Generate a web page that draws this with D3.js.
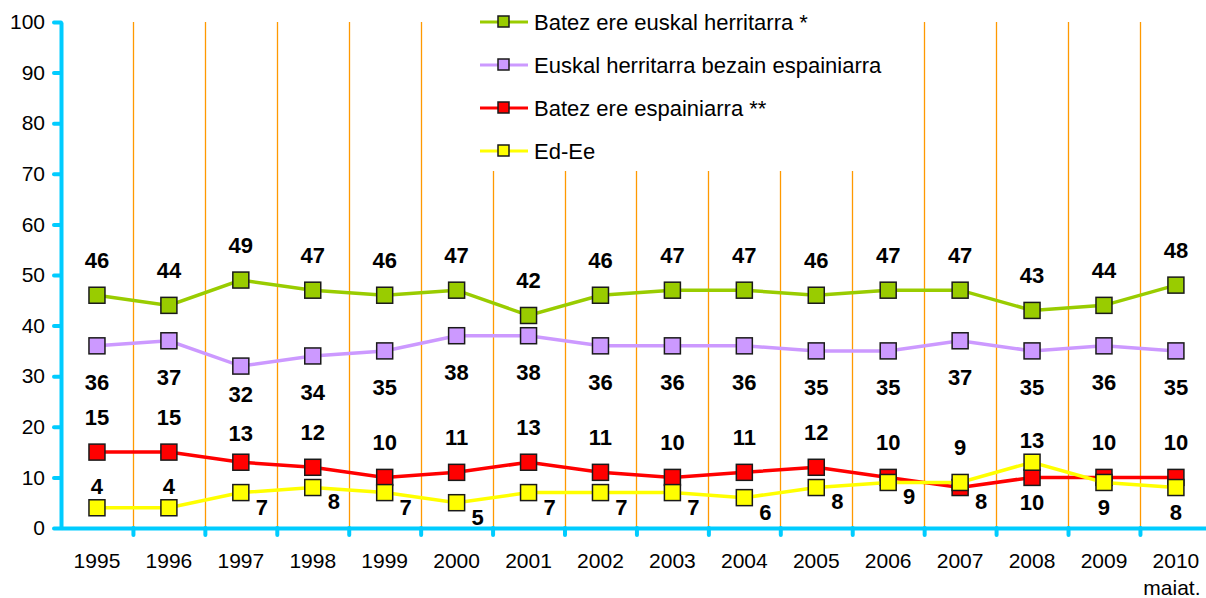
<!DOCTYPE html>
<html>
<head>
<meta charset="utf-8">
<script src="https://cdn.jsdelivr.net/npm/d3@7"></script>
<style>
  body { margin: 0; background: #fff; }
  text { font-family: "Liberation Sans", Arial, sans-serif; fill: #000; }
</style>
</head>
<body>
<div id="chart"></div>
<script>
var svgWidth = 1206;
var svgHeight = 598;

// data
var years = ["1995", "1996", "1997", "1998", "1999", "2000", "2001", "2002",
  "2003", "2004", "2005", "2006", "2007", "2008", "2009", "2010"];
var lastYearNote = "maiat.";
var yTicks = [0, 10, 20, 30, 40, 50, 60, 70, 80, 90, 100];

var seriesNames = ["Batez ere euskal herritarra *", "Euskal herritarra bezain espainiarra",
  "Batez ere espainiarra **", "Ed-Ee"];
var seriesColors = ["#99CC00", "#CC99FF", "#FF0000", "#FFFF00"];

var basque = [46, 44, 49, 47, 46, 47, 42, 46, 47, 47, 46, 47, 47, 43, 44, 48];
var both = [36, 37, 32, 34, 35, 38, 38, 36, 36, 36, 35, 35, 37, 35, 36, 35];
var spanish = [15, 15, 13, 12, 10, 11, 13, 11, 10, 11, 12, 10, 8, 10, 10, 10];
var dkna = [4, 4, 7, 8, 7, 5, 7, 7, 7, 6, 8, 9, 9, 13, 9, 8];

// where each value label sits: t/m/T = above (far to near), B/M/b = below (far to near), r = lower right
var basquePlace = years.map(() => "t");
var bothPlace = ["B", "B", "M", "B", "B", "B", "B", "B", "B", "B", "B", "B", "B", "B", "B", "B"];
var spanishPlace = ["t", "t", "m", "t", "t", "t", "t", "t", "t", "t", "t", "t", "r", "b", "t", "t"];
var dknaPlace = ["T", "T", "r", "r", "r", "r", "r", "r", "r", "r", "r", "r", "t", "T", "b", "b"];

var placeOffset = { t: [0, -35], m: [0, -29], T: [0, -22], b: [0, 25], M: [0, 28], B: [0, 36], r: [21, 14] };

var series = [
  { name: seriesNames[0], color: seriesColors[0], values: basque, place: basquePlace },
  { name: seriesNames[1], color: seriesColors[1], values: both, place: bothPlace },
  { name: seriesNames[2], color: seriesColors[2], values: spanish, place: spanishPlace },
  { name: seriesNames[3], color: seriesColors[3], values: dkna, place: dknaPlace }
];

var plotLeft = 61, plotTop = 22, plotBottom = 528, band = 71.93;

var svg = d3.select("#chart")
  .append("svg")
  .attr("width", svgWidth)
  .attr("height", svgHeight);

// scales
var xBand = d3.scaleBand()
  .domain(years)
  .range([plotLeft, plotLeft + band * years.length]);

var xEdge = d3.scaleLinear()
  .domain([0, years.length])
  .range([plotLeft, plotLeft + band * years.length]);

var yScale = d3.scaleLinear()
  .domain([0, 100])
  .range([plotBottom, plotTop]);

// orange separators between years
svg.append("g").selectAll("line")
  .data(d3.range(1, years.length))
  .enter()
  .append("line")
  .attr("x1", d => Math.round(xEdge(d)) + 0.5)
  .attr("x2", d => Math.round(xEdge(d)) + 0.5)
  .attr("y1", yScale(100))
  .attr("y2", yScale(0))
  .attr("stroke", "#FF9900")
  .attr("stroke-width", 1.3);

// legend background hides part of the separators
svg.append("rect")
  .attr("x", 470).attr("y", 0)
  .attr("width", 430).attr("height", 171)
  .attr("fill", "#fff");

// axes
var axisColor = "#00CCFF";

var leftAxis = svg.append("g")
  .attr("transform", `translate(${plotLeft}, 0)`)
  .call(d3.axisLeft(yScale).tickValues(yTicks).tickSize(7).tickSizeOuter(0).tickPadding(9));

var edgeAxis = svg.append("g")
  .attr("transform", `translate(0, ${plotBottom})`)
  .call(d3.axisBottom(xEdge).tickValues(d3.range(1, years.length)).tickFormat("").tickSize(7).tickSizeOuter(0));

[leftAxis, edgeAxis].forEach(function(g) {
  g.select(".domain").attr("stroke", axisColor).attr("stroke-width", 4);
  g.selectAll(".tick line").attr("stroke", axisColor).attr("stroke-width", 4).attr("stroke-linecap", "round");
});
leftAxis.selectAll("text").attr("font-size", 21).attr("fill", "#000")
  .style("font-family", "'Liberation Sans', Arial, sans-serif");

var labelAxis = svg.append("g")
  .attr("transform", `translate(0, ${plotBottom})`)
  .call(d3.axisBottom(xBand).tickSize(0).tickPadding(25));
labelAxis.select(".domain").remove();
labelAxis.selectAll("text").attr("font-size", 21).attr("fill", "#000")
  .style("font-family", "'Liberation Sans', Arial, sans-serif");
labelAxis.selectAll(".tick").filter(d => d === years[years.length - 1])
  .select("text")
  .append("tspan")
  .attr("x", -4)
  .attr("dy", "1.3em")
  .text(lastYearNote);

// series lines and markers
var line = d3.line()
  .x((d, i) => xBand(years[i]) + xBand.bandwidth() / 2)
  .y(d => yScale(d));

series.forEach(function(s) {
  var g = svg.append("g");
  g.append("path")
    .datum(s.values)
    .attr("d", line)
    .attr("fill", "none")
    .attr("stroke", s.color)
    .attr("stroke-width", 3.5);

  g.selectAll("rect")
    .data(s.values)
    .enter()
    .append("rect")
    .attr("x", (d, i) => xBand(years[i]) + xBand.bandwidth() / 2 - 8)
    .attr("y", d => yScale(d) - 8)
    .attr("width", 16)
    .attr("height", 16)
    .attr("fill", s.color)
    .attr("stroke", "#1a1a1a")
    .attr("stroke-width", 1.5);
});

// value labels
series.forEach(function(s) {
  svg.append("g").selectAll("text")
    .data(s.values)
    .enter()
    .append("text")
    .attr("x", (d, i) => xBand(years[i]) + xBand.bandwidth() / 2 + placeOffset[s.place[i]][0])
    .attr("y", (d, i) => yScale(d) + placeOffset[s.place[i]][1])
    .attr("dy", "0.36em")
    .attr("text-anchor", "middle")
    .attr("font-size", 22)
    .attr("font-weight", "bold")
    .text(d => d);
});

// legend
var legend = svg.append("g").selectAll("g")
  .data(series)
  .enter()
  .append("g")
  .attr("transform", (d, i) => `translate(480, ${22 + i * 43})`);

legend.append("line")
  .attr("x1", 0).attr("x2", 48)
  .attr("stroke", d => d.color)
  .attr("stroke-width", 3);

legend.append("rect")
  .attr("x", 18).attr("y", -6)
  .attr("width", 11).attr("height", 11)
  .attr("fill", d => d.color)
  .attr("stroke", "#1a1a1a")
  .attr("stroke-width", 1.5);

legend.append("text")
  .attr("x", 54)
  .attr("dy", "0.36em")
  .attr("font-size", 22)
  .text(d => d.name);
</script>
</body>
</html>
